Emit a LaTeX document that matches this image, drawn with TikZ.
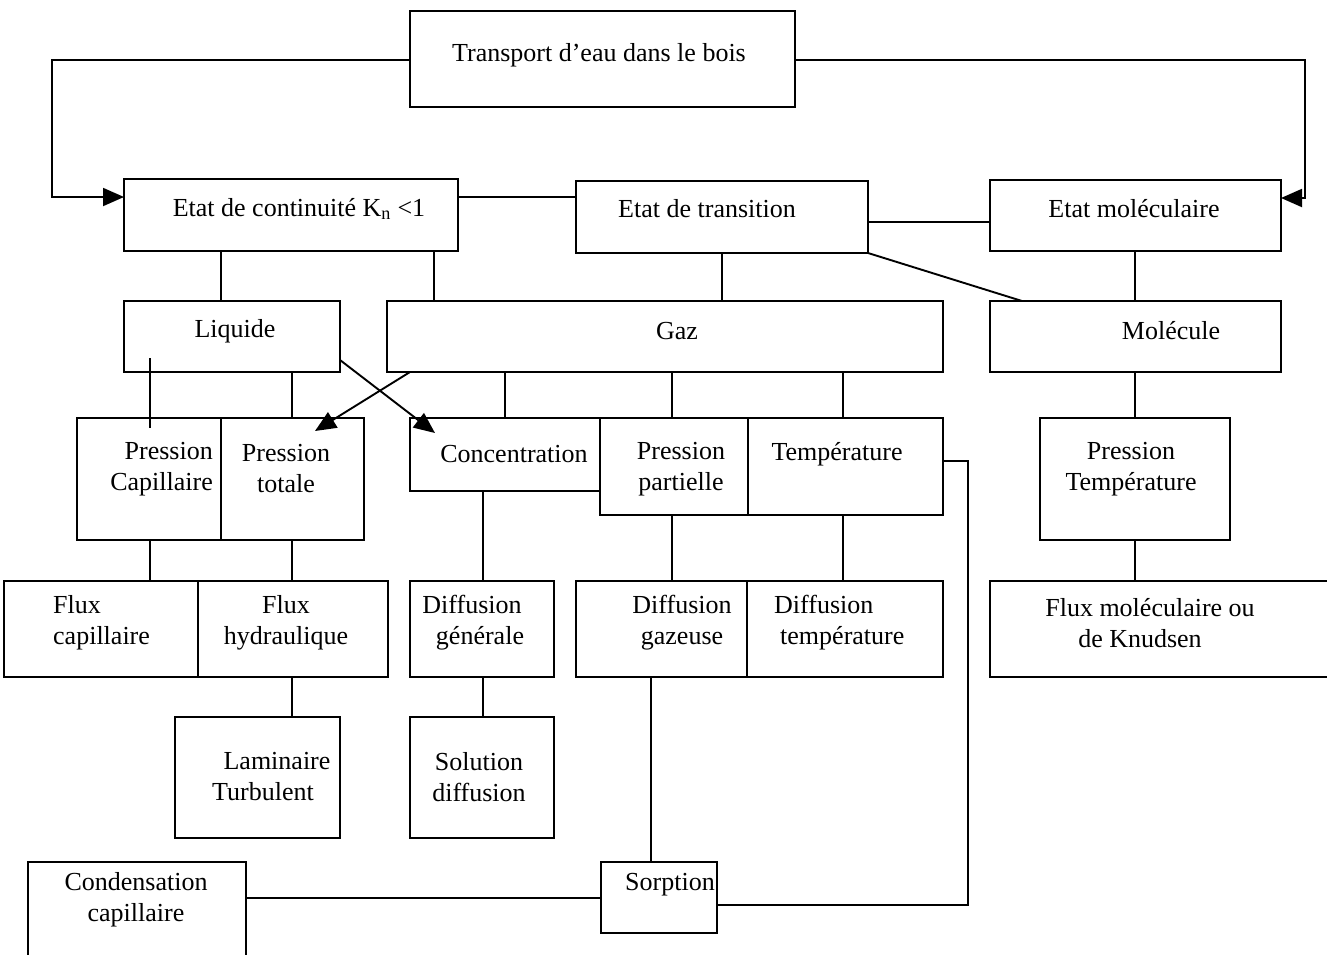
\documentclass[tikz,border=0pt]{standalone}
\usepackage{fontspec}
\setmainfont{Liberation Serif}
\usetikzlibrary{arrows.meta}
\newcommand\mybox[5]{\node[box, anchor=north west, minimum width=#4pt, minimum height=#5pt] (#1) at (#2,#3) {};}
\newcommand\vlink[3]{\draw[link] (#1.south -| #3,0) -- (#2.north -| #3,0);}
\begin{document}
\begin{tikzpicture}[x=1pt,y=-1pt,
  box/.style={draw, line width=2.4pt, rectangle, inner sep=0pt, outer sep=0pt},
  link/.style={line width=1.9pt},
  arr/.style={line width=1.9pt, -{Triangle[length=21pt,width=18pt]}},
  txt/.style={inner sep=0pt, font=\fontsize{26}{31}\selectfont, align=center}]
\fill[white] (0,0) rectangle (1327,954);
\useasboundingbox (0,0) rectangle (1327,954);
% boxes
\mybox{top}{410}{11}{385}{96}
\mybox{cont}{124}{179}{334}{72}
\mybox{trans}{576}{181}{292}{72}
\mybox{mol}{990}{180}{291}{71}
\mybox{liq}{124}{301}{216}{71}
\mybox{gaz}{387}{301}{556}{71}
\mybox{molec}{990}{301}{291}{71}
\mybox{pc}{77}{418}{144}{122}
\mybox{pt}{221}{418}{143}{122}
\mybox{conc}{410}{418}{190}{73}
\mybox{pp}{600}{418}{148}{97}
\mybox{temp}{748}{418}{195}{97}
\mybox{ptemp}{1040}{418}{190}{122}
\mybox{fcap}{4}{581}{194}{96}
\mybox{fhyd}{198}{581}{190}{96}
\mybox{dgen}{410}{581}{144}{96}
\mybox{dgaz}{576}{581}{171}{96}
\mybox{dtemp}{747}{581}{196}{96}
\mybox{fknud}{990}{581}{342}{96}
\mybox{lam}{175}{717}{165}{121}
\mybox{sol}{410}{717}{144}{121}
\mybox{sorp}{601}{862}{116}{71}
\mybox{cond}{28}{862}{218}{98}
% texts
\node[txt] (t1) at (599,55) {Transport d’eau dans le bois};
\node[txt] (t2) at (299,209) {Etat de continuité K\textsubscript{n} <1};
\node[txt] (t3) at (707,209) {Etat de transition};
\node[txt] (t4) at (1134,209) {Etat moléculaire};
\node[txt] (t5) at (235,331) {Liquide};
\node[txt] (t6) at (677,331) {Gaz};
\node[txt] (t7) at (1171,331) {Molécule};
\node[txt, align=right, anchor=east] (t8) at (213,469) {Pression\\Capillaire};
\node[txt] (t9) at (286,469) {Pression\\totale};
\node[txt] (t10) at (514,454) {Concentration};
\node[txt] (t11) at (681,469) {Pression\\partielle};
\node[txt] (t12) at (837,454) {Température};
\node[txt] (t13) at (1131,469) {Pression\\Température};
\node[txt, align=left, anchor=west] (t14) at (53,623) {Flux\\capillaire};
\node[txt] (t15) at (286,623) {Flux\\hydraulique};
\node[txt] (t16) at (472,623) {Diffusion\\\hspace*{16pt}générale};
\node[txt] (t17) at (682,623) {Diffusion\\gazeuse};
\node[txt, align=left, anchor=west] (t18) at (774,623) {Diffusion\\\hspace*{6pt}température};
\node[txt] (t19) at (1150,623) {Flux moléculaire ou\\de Knudsen\hspace*{20pt}};
\node[txt] (t20) at (270,777) {\hspace*{14pt}Laminaire\\Turbulent\hspace*{14pt}};
\node[txt] (t21) at (479,777) {Solution\\diffusion};
\node[txt] (t22) at (136,900) {Condensation\\capillaire};
\node[txt] (t23) at (670,885) {Sorption};
% vertical links
\vlink{cont}{liq}{221}
\vlink{cont}{gaz}{434}
\vlink{trans}{gaz}{722}
\vlink{mol}{molec}{1135}
\vlink{liq}{pt}{292}
\vlink{gaz}{conc}{505}
\vlink{gaz}{pp}{672}
\vlink{gaz}{temp}{843}
\vlink{molec}{ptemp}{1135}
\vlink{pc}{fcap}{150}
\vlink{pt}{fhyd}{292}
\vlink{conc}{dgen}{483}
\vlink{pp}{dgaz}{672}
\vlink{temp}{dtemp}{843}
\vlink{ptemp}{fknud}{1135}
\vlink{fhyd}{lam}{292}
\vlink{dgen}{sol}{483}
\vlink{dgaz}{sorp}{651}
% horizontal links
\draw[link] (cont.east |- 0,197) -- (trans.west |- 0,197);
\draw[link] (trans.east |- 0,222) -- (mol.west |- 0,222);
\draw[link] (trans.south east) -- (molec.north -| 1022,0);
\draw[link] (cond.east |- 0,898) -- (sorp.west |- 0,898);
\draw[link] (temp.east |- 0,461) -| (968,905) -- (sorp.east |- 0,905);
% liquid stub
\coordinate (lq1) at (150,358);
\coordinate (lq2) at (150,428);
\draw[link] (lq1) -- (lq2);
% arrows from top
\draw[arr] (top.west |- 0,60) -| (52,197) -- (cont.west |- 0,197);
\draw[arr] (top.east |- 0,60) -| (1305,198) -- (mol.east |- 0,198);
% crossing arrows
\coordinate (tipc) at (435,433);
\coordinate (tipp) at (315,431);
\draw[arr] (liq.east |- 0,360) -- (tipc);
\draw[arr] (gaz.south -| 410,0) -- (tipp);
\end{tikzpicture}
\end{document}
